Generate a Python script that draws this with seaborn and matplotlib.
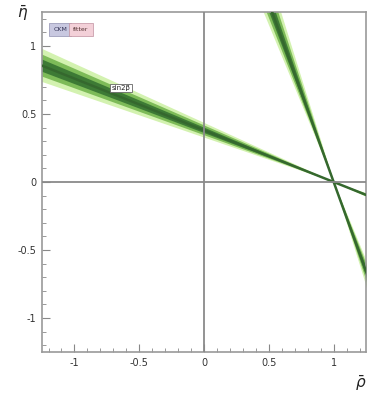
import numpy as np
import pandas as pd
import matplotlib
matplotlib.use("Agg")
import matplotlib.pyplot as plt
import seaborn as sns

# sin(2beta) constraint: two solutions for beta (degrees)
beta_solutions = [20.8, 69.2]
# half widths of the confidence bands in beta (degrees), outer -> inner
band_halfwidth = [2.7, 1.8, 1.0]
band_colors = ["#d3f2b0", "#7dbb58", "#3d7a35"]

ticks = [-1, -0.5, 0, 0.5, 1]
tick_labels = ["-1", "-0.5", "0", "0.5", "1"]
label_pos = (-0.64, 0.69)

sns.set_style("ticks")
fig = plt.figure(figsize=(3.72, 3.96), dpi=100)
ax = fig.add_axes([0.113, 0.111, 0.871, 0.859])

eta = np.linspace(-1.3, 1.3, 200)
for b in beta_solutions:
    for hw, col in zip(band_halfwidth, band_colors):
        lo = 1 - eta / np.tan(np.radians(b - hw))
        hi = 1 - eta / np.tan(np.radians(b + hw))
        ax.fill_betweenx(eta, lo, hi, color=col, lw=0, zorder=2)
    d = pd.DataFrame({"eta": eta, "rho": 1 - eta / np.tan(np.radians(b))})
    sns.lineplot(data=d, x="rho", y="eta", sort=False, color="#35682e",
                 lw=1.8, ax=ax, zorder=3)

ax.axhline(0, color="#8a8a8a", lw=1.3, zorder=4)
ax.axvline(0, color="#8a8a8a", lw=1.3, zorder=4)

ax.set_xlim(-1.25, 1.25)
ax.set_ylim(-1.25, 1.25)
ax.set_xticks(ticks)
ax.set_xticklabels(tick_labels)
ax.set_yticks(ticks)
ax.set_yticklabels(tick_labels)
ax.set_xticks(np.arange(-1.2, 1.25, 0.1), minor=True)
ax.set_yticks(np.arange(-1.2, 1.25, 0.1), minor=True)
ax.tick_params(which="major", direction="in", length=6, width=0.8,
               color="#888888", labelsize=7, labelcolor="#333333", pad=4)
ax.tick_params(which="minor", direction="in", length=3, width=0.6,
               color="#888888")
for s in ax.spines.values():
    s.set_color("#999999")
    s.set_linewidth(1.2)

ax.set_xlabel("")
ax.set_ylabel("")
fig.text(0.045, 0.955, r"$\bar{\eta}$", fontsize=11, color="#222222")
fig.text(0.955, 0.02, r"$\bar{\rho}$", fontsize=11, color="#222222")

ax.text(label_pos[0], label_pos[1], "sin2β", fontsize=5, color="#222222",
        ha="center", va="center", zorder=5,
        bbox=dict(boxstyle="square,pad=0.2", fc="white", ec="#666666", lw=0.6))

ax.text(-1.11, 1.12, "CKM", fontsize=4.5, color="#333355", ha="center", va="center",
        zorder=5, bbox=dict(boxstyle="square,pad=0.7", fc="#c8c8e0", ec="#9090b0", lw=0.5))
ax.text(-0.95, 1.12, "fitter", fontsize=4.5, color="#553333", ha="center", va="center",
        zorder=5, bbox=dict(boxstyle="square,pad=0.7", fc="#f3d0d8", ec="#c090a0", lw=0.5))

fig.savefig("out.png", dpi=100)
